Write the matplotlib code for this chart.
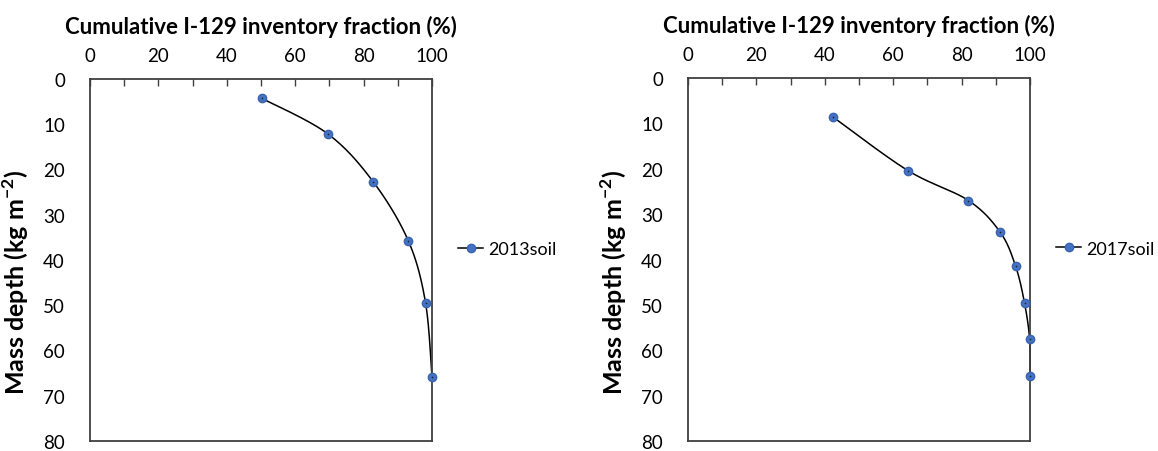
import numpy as np
import matplotlib.pyplot as plt
from matplotlib.lines import Line2D

# cumulative I-129 inventory fraction (%) vs mass depth (kg m-2)
frac_2013 = [50.3, 69.5, 82.8, 93.1, 98.1, 100.0]
depth_2013 = [4.3, 12.1, 22.7, 35.8, 49.4, 65.9]

frac_2017 = [42.4, 64.3, 82.0, 91.3, 95.8, 98.4, 99.9, 100.0]
depth_2017 = [8.6, 20.4, 27.0, 34.0, 41.5, 49.6, 57.6, 65.6]

labels = ['2013soil', '2017soil']

FONT = 'Lato'
plt.rcParams['font.family'] = [FONT, 'DejaVu Sans']

MARKER_FACE = '#4472C4'
MARKER_EDGE = '#3A64B0'
FRAME = '#404040'


def smooth_curve(x, y, n=30):
    # Catmull-Rom style bezier smoothing like spreadsheet "smoothed line"
    x = np.asarray(x, float)
    y = np.asarray(y, float)
    px = np.concatenate([[x[0]], x, [x[-1]]])
    py = np.concatenate([[y[0]], y, [y[-1]]])
    xs, ys = [], []
    t = np.linspace(0, 1, n)
    for i in range(1, len(px) - 2):
        p0 = np.array([px[i], py[i]])
        p3 = np.array([px[i + 1], py[i + 1]])
        c1 = p0 + (np.array([px[i + 1], py[i + 1]]) - np.array([px[i - 1], py[i - 1]])) / 6
        c2 = p3 - (np.array([px[i + 2], py[i + 2]]) - np.array([px[i], py[i]])) / 6
        b = ((1 - t) ** 3)[:, None] * p0 + (3 * (1 - t) ** 2 * t)[:, None] * c1 \
            + (3 * (1 - t) * t ** 2)[:, None] * c2 + (t ** 3)[:, None] * p3
        xs.extend(b[:, 0])
        ys.extend(b[:, 1])
    return np.array(xs), np.array(ys)


def draw_panel(ax, frac, depth, label):
    sx, sy = smooth_curve(frac, depth)
    ax.plot(sx, sy, color='black', lw=1.1, zorder=2, clip_on=False)
    ax.plot(frac, depth, ls='none', marker='o', ms=6, mfc=MARKER_FACE,
            mec=MARKER_EDGE, mew=1.0, zorder=3, clip_on=False)
    ax.plot(frac, depth, ls='none', marker='o', ms=1.2, mfc='#202020',
            mec='none', zorder=4, clip_on=False)

    ax.set_xlim(0, 100)
    ax.set_ylim(80, 0)
    ax.xaxis.tick_top()
    ax.xaxis.set_label_position('top')
    ax.set_xticks(np.arange(0, 101, 20))
    ax.set_xticks(np.arange(0, 101, 10), minor=True)
    ax.set_yticks(np.arange(0, 81, 10))
    ax.tick_params(axis='x', which='both', direction='in', length=5,
                   color=FRAME, width=1.0, labelsize=13.5, pad=11)
    ax.tick_params(axis='y', which='both', length=0, labelsize=13.5, pad=18)
    for s in ax.spines.values():
        s.set_color(FRAME)
        s.set_linewidth(1.3)
    ax.set_xlabel('Cumulative I-129 inventory fraction (%)', fontsize=16,
                  fontweight='bold', labelpad=10)
    ax.set_ylabel('Mass depth (kg m$^{\\mathregular{-2}}$)', fontsize=18,
                  fontweight='bold')
    ax.yaxis.set_label_coords(-0.172, 0.44)

    h = Line2D([], [], color='black', lw=1.1, marker='o', ms=6,
               mfc=MARKER_FACE, mec=MARKER_EDGE)
    ax.legend([h], [label], loc='center left', bbox_to_anchor=(1.076, 0.53),
              frameon=False, fontsize=13, handlelength=1.4,
              handletextpad=0.3, borderaxespad=0, borderpad=0)


fig = plt.figure(figsize=(11.58, 4.52), dpi=100)
W, H = 1158, 452
ax1 = fig.add_axes([90 / W, 1 - 442 / H, 342 / W, 362 / H])
ax2 = fig.add_axes([688 / W, 1 - 442 / H, 342 / W, 363 / H])

draw_panel(ax1, frac_2013, depth_2013, labels[0])
draw_panel(ax2, frac_2017, depth_2017, labels[1])

fig.savefig('out.png', dpi=100)
